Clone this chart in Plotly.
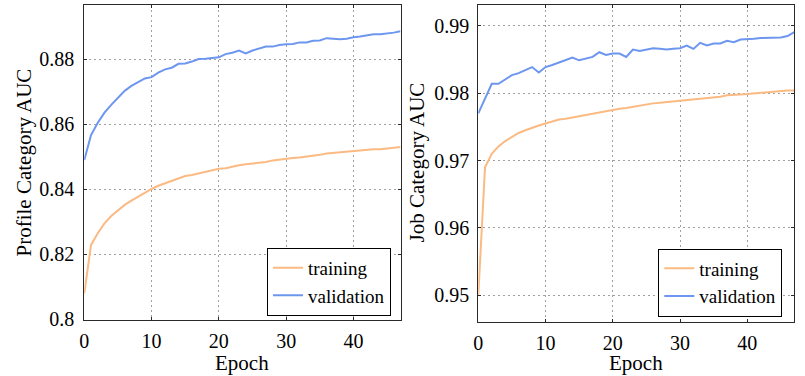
import plotly.graph_objects as go

W, H = 805, 376

epochs = list(range(48))

profile_training = [
    0.8080, 0.8229, 0.8265, 0.8295, 0.8318, 0.8336, 0.8352, 0.8365, 0.8377, 0.8390,
    0.8401, 0.8411, 0.8418, 0.8426, 0.8434, 0.8441, 0.8444, 0.8449, 0.8455, 0.8459,
    0.8463, 0.8465, 0.8470, 0.8474, 0.8477, 0.8479, 0.8481, 0.8484, 0.8489, 0.8492,
    0.8494, 0.8496, 0.8498, 0.8500, 0.8504, 0.8506, 0.8510, 0.8512, 0.8513, 0.8515,
    0.8516, 0.8518, 0.8520, 0.8523, 0.8523, 0.8526, 0.8528, 0.8530,
]
profile_validation = [
    0.8490, 0.8567, 0.8605, 0.8636, 0.8660, 0.8682, 0.8703, 0.8718, 0.8729, 0.8741,
    0.8745, 0.8759, 0.8769, 0.8774, 0.8786, 0.8787, 0.8793, 0.8801, 0.8802, 0.8804,
    0.8806, 0.8816, 0.8820, 0.8827, 0.8818, 0.8827, 0.8834, 0.8839, 0.8839, 0.8844,
    0.8846, 0.8847, 0.8852, 0.8852, 0.8857, 0.8858, 0.8865, 0.8863, 0.8862, 0.8863,
    0.8868, 0.8870, 0.8874, 0.8877, 0.8877, 0.8879, 0.8882, 0.8886,
]
job_training = [
    0.9500, 0.9690, 0.9710, 0.9721, 0.9729, 0.9735, 0.9741, 0.9745, 0.9749, 0.9752,
    0.9755, 0.9758, 0.9761, 0.9762, 0.9764, 0.9766, 0.9767, 0.9769, 0.9771, 0.9774,
    0.9775, 0.9777, 0.9778, 0.9780, 0.9782, 0.9783, 0.9785, 0.9786, 0.9787, 0.9787,
    0.9789, 0.9790, 0.9791, 0.9792, 0.9792, 0.9794, 0.9795, 0.9797, 0.9797, 0.9798,
    0.9799, 0.9800, 0.9800, 0.9801, 0.9802, 0.9803, 0.9804, 0.9804,
]
job_validation = [
    0.9770, 0.9793, 0.9814, 0.9814, 0.9821, 0.9827, 0.9830, 0.9835, 0.9839, 0.9831,
    0.9839, 0.9842, 0.9846, 0.9849, 0.9853, 0.9849, 0.9852, 0.9854, 0.9861, 0.9857,
    0.9859, 0.9859, 0.9854, 0.9865, 0.9863, 0.9865, 0.9867, 0.9866, 0.9865, 0.9866,
    0.9867, 0.9871, 0.9866, 0.9875, 0.9871, 0.9874, 0.9874, 0.9878, 0.9876, 0.9880,
    0.9880, 0.9881, 0.9882, 0.9882, 0.9882, 0.9883, 0.9885, 0.9891,
]

x_ticks = [0, 10, 20, 30, 40]
profile_ticks = [0.80, 0.82, 0.84, 0.86, 0.88]
profile_ticktext = ["0.8", "0.82", "0.84", "0.86", "0.88"]
job_ticks = [0.95, 0.96, 0.97, 0.98, 0.99]
job_ticktext = ["0.95", "0.96", "0.97", "0.98", "0.99"]

ORANGE = "#FBBA82"
BLUE = "#6C96EF"
FONT = "Liberation Serif, DejaVu Serif, serif"
FRAME = "#2a2a2a"
GRID = "#a0a0a0"


def px_x(p):
    return p / W


def px_y(p):
    return 1 - p / H


fig = go.Figure()

fig.add_trace(go.Scatter(x=epochs, y=profile_training, name="training", mode="lines",
                         line=dict(color=ORANGE, width=2), xaxis="x", yaxis="y", legend="legend"))
fig.add_trace(go.Scatter(x=epochs, y=profile_validation, name="validation", mode="lines",
                         line=dict(color=BLUE, width=2), xaxis="x", yaxis="y", legend="legend"))
fig.add_trace(go.Scatter(x=epochs, y=job_training, name="training", mode="lines",
                         line=dict(color=ORANGE, width=2), xaxis="x2", yaxis="y2", legend="legend2"))
fig.add_trace(go.Scatter(x=epochs, y=job_validation, name="validation", mode="lines",
                         line=dict(color=BLUE, width=2), xaxis="x2", yaxis="y2", legend="legend2"))

tick_font = dict(family=FONT, size=20, color="#000")

axis_common = dict(
    showline=True, linecolor=FRAME, linewidth=1, mirror="ticks",
    ticks="inside", ticklen=3, tickcolor=FRAME, tickwidth=1,
    showgrid=True, gridcolor=GRID, gridwidth=1, griddash="2px,3px",
    zeroline=False, tickfont=tick_font,
)

legend_common = dict(
    xanchor="center", yanchor="middle",
    bordercolor="#000", borderwidth=1, bgcolor="white",
    font=dict(family=FONT, size=19, color="#000"), tracegroupgap=0,
)

fig.update_layout(
    width=W, height=H,
    margin=dict(l=0, r=0, t=0, b=0, autoexpand=False),
    paper_bgcolor="white", plot_bgcolor="white",
    font=dict(family=FONT, size=20, color="#000"),
    xaxis=dict(domain=[px_x(84.3), px_x(400.5)], range=[0, 47], tickvals=x_ticks,
               anchor="y", ticklabelstandoff=3, **axis_common),
    yaxis=dict(domain=[px_y(320), px_y(5)], range=[0.7998, 0.8967], tickvals=profile_ticks,
               ticktext=profile_ticktext, anchor="x", ticklabelstandoff=5, **axis_common),
    xaxis2=dict(domain=[px_x(478.3), px_x(794.3)], range=[0, 47], tickvals=x_ticks,
                anchor="y2", ticklabelstandoff=3, **axis_common),
    yaxis2=dict(domain=[px_y(321.5), px_y(5)], range=[0.94608, 0.99312], tickvals=job_ticks,
                ticktext=job_ticktext, anchor="x2", ticklabelstandoff=4, **axis_common),
    legend=dict(x=px_x(329), y=px_y(281.8), **legend_common),
    legend2=dict(x=px_x(720.3), y=px_y(282.5), **legend_common),
    showlegend=True,
    annotations=[
        dict(text="Profile Category AUC", textangle=-90, x=px_x(23), y=px_y(162.5),
             xref="paper", yref="paper", showarrow=False, xanchor="center", yanchor="middle",
             font=dict(family=FONT, size=21, color="#000")),
        dict(text="Job Category AUC", textangle=-90, x=px_x(416.5), y=px_y(163),
             xref="paper", yref="paper", showarrow=False, xanchor="center", yanchor="middle",
             font=dict(family=FONT, size=21, color="#000")),
        dict(text="Epoch", x=px_x(242.4), y=px_y(363), xref="paper", yref="paper",
             showarrow=False, xanchor="center", yanchor="middle",
             font=dict(family=FONT, size=21, color="#000")),
        dict(text="Epoch", x=px_x(636.3), y=px_y(363), xref="paper", yref="paper",
             showarrow=False, xanchor="center", yanchor="middle",
             font=dict(family=FONT, size=21, color="#000")),
    ],
)

fig.write_html(
    "out.html",
    config={"displayModeBar": False},
    post_script="document.body.style.margin='0';document.body.style.padding='0';"
                "document.documentElement.style.overflow='hidden';",
)
